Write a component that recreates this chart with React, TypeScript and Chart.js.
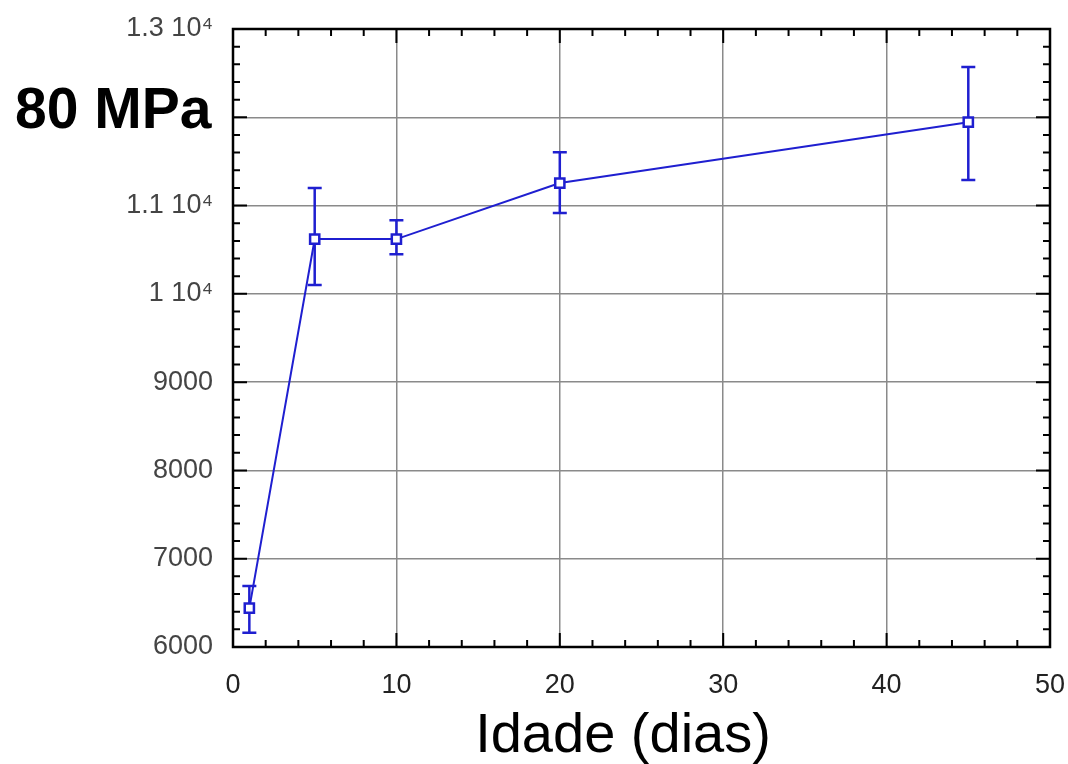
import React, { useEffect, useRef } from "react";
import { Chart, registerables } from "chart.js";

Chart.register(...registerables);

// Data
const ages = [1, 5, 10, 20, 45];
const strength = [6440, 10620, 10620, 11255, 11945];
const upperErr = [6690, 11200, 10835, 11605, 12570];
const lowerErr = [6160, 10100, 10450, 10915, 11290];

const xTickStep = 10;
const xMinorStep = 2;
const yTickStep = 1000;
const yMinorStep = 200;
const xMin = 0, xMax = 50, yMin = 6000, yMax = 13000;

const titleText = "80 MPa";
const xAxisTitle = "Idade (dias)";

const FONT = "'Liberation Sans', Arial, sans-serif";
const BLUE = "#1f1fd0";

function yLabel(v: number): string {
  if (v >= 10000) {
    const m = Math.round((v / 10000) * 10) / 10;
    return m + " 10\u2074";
  }
  return String(v);
}

const decorPlugin = {
  id: "decor",
  beforeDatasetsDraw(chart: any) {
    const { ctx, chartArea: a, scales } = chart;
    const xs = scales.x, ys = scales.y;
    ctx.save();
    ctx.strokeStyle = "#000";
    ctx.lineWidth = 2;
    for (let v = xMin; v <= xMax + 1e-9; v += xMinorStep) {
      const px = xs.getPixelForValue(v);
      const len = v % xTickStep === 0 ? 14 : 7;
      ctx.beginPath();
      ctx.moveTo(px, a.bottom);
      ctx.lineTo(px, a.bottom - len);
      ctx.moveTo(px, a.top);
      ctx.lineTo(px, a.top + len);
      ctx.stroke();
    }
    for (let v = yMin; v <= yMax + 1e-9; v += yMinorStep) {
      const py = ys.getPixelForValue(v);
      const len = v % yTickStep === 0 ? 14 : 7;
      ctx.beginPath();
      ctx.moveTo(a.left, py);
      ctx.lineTo(a.left + len, py);
      ctx.moveTo(a.right, py);
      ctx.lineTo(a.right - len, py);
      ctx.stroke();
    }
    ctx.lineWidth = 2.5;
    ctx.strokeRect(a.left, a.top, a.right - a.left, a.bottom - a.top);

    // error bars
    ctx.strokeStyle = BLUE;
    ctx.lineWidth = 2.5;
    for (let i = 0; i < ages.length; i++) {
      const px = xs.getPixelForValue(ages[i]);
      const pt = ys.getPixelForValue(upperErr[i]);
      const pb = ys.getPixelForValue(lowerErr[i]);
      ctx.beginPath();
      ctx.moveTo(px, pt);
      ctx.lineTo(px, pb);
      ctx.moveTo(px - 7, pt);
      ctx.lineTo(px + 7, pt);
      ctx.moveTo(px - 7, pb);
      ctx.lineTo(px + 7, pb);
      ctx.stroke();
    }
    ctx.restore();
  },
  afterDraw(chart: any) {
    const { ctx } = chart;
    ctx.save();
    ctx.font = `bold 57px ${FONT}`;
    ctx.textBaseline = "alphabetic";
    ctx.textAlign = "left";
    const w = ctx.measureText(titleText).width;
    ctx.fillStyle = "#fff";
    ctx.fillRect(14, 86, w + 2, 46);
    ctx.fillStyle = "#000";
    ctx.fillText(titleText, 15, 128);

    ctx.font = `56px ${FONT}`;
    ctx.textAlign = "center";
    ctx.fillStyle = "#000";
    ctx.fillText(xAxisTitle, 623, 752);
    ctx.restore();
  },
};

function zeroPad(s: any) {
  s.paddingLeft = 0;
  s.paddingRight = 0;
  s.paddingTop = 0;
  s.paddingBottom = 0;
}

export default function App() {
  const ref = useRef<HTMLCanvasElement>(null);
  useEffect(() => {
    if (!ref.current) return;
    const chart = new Chart(ref.current, {
      type: "scatter",
      data: {
        datasets: [
          {
            data: ages.map((x, i) => ({ x, y: strength[i] })),
            showLine: true,
            borderColor: BLUE,
            borderWidth: 2,
            pointStyle: "rect",
            pointRadius: 6.5,
            pointBorderWidth: 2.5,
            pointBorderColor: BLUE,
            pointBackgroundColor: "#fff",
          },
        ],
      },
      plugins: [decorPlugin],
      options: {
        animation: false,
        responsive: false,
        maintainAspectRatio: false,
        layout: { padding: { left: 0, top: 29, right: 18, bottom: 0 } },
        plugins: { legend: { display: false }, tooltip: { enabled: false }, title: { display: false } },
        scales: {
          x: {
            type: "linear",
            min: xMin,
            max: xMax,
            border: { display: false },
            grid: { color: "#8a8a8a", lineWidth: 1.5, drawTicks: false },
            ticks: {
              stepSize: xTickStep,
              padding: 22,
              color: "#222",
              font: { family: FONT, size: 27 },
              maxRotation: 0,
            },
            afterFit: (s: any) => {
              s.height = 764 - 647;
              zeroPad(s);
            },
          },
          y: {
            type: "linear",
            min: yMin,
            max: yMax,
            border: { display: false },
            grid: { color: "#8a8a8a", lineWidth: 1.5, drawTicks: false },
            ticks: {
              stepSize: yTickStep,
              padding: 20,
              color: "#444",
              font: { family: FONT, size: 27 },
              callback: (v: any) => yLabel(Number(v)),
            },
            afterFit: (s: any) => {
              s.width = 233;
              zeroPad(s);
            },
          },
        },
      },
    });
    return () => chart.destroy();
  }, []);
  return (
    <div style={{ position: "fixed", left: 0, top: 0, width: 1068, height: 764, background: "#fff" }}>
      <canvas ref={ref} width={1068} height={764} />
    </div>
  );
}
